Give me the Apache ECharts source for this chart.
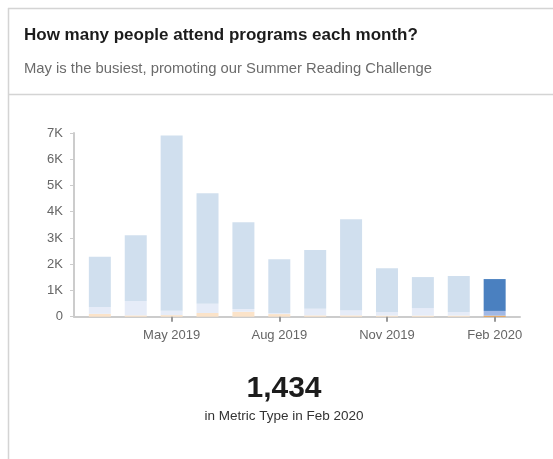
<!DOCTYPE html>
<html>
<head>
<meta charset="utf-8">
<script src="https://cdn.jsdelivr.net/npm/echarts@6/dist/echarts.min.js"></script>
<style>
  html, body { margin: 0; padding: 0; background: #fff; }
  #chart { width: 553px; height: 459px; }
</style>
</head>
<body>
<div id="chart"></div>
<script>
// Monthly program attendance, Mar 2019 – Feb 2020, split into three stacked parts
const months = ['Mar 2019', 'Apr 2019', 'May 2019', 'Jun 2019', 'Jul 2019', 'Aug 2019',
                'Sep 2019', 'Oct 2019', 'Nov 2019', 'Dec 2019', 'Jan 2020', 'Feb 2020'];
const partA = [110, 50, 60, 140, 190, 100, 50, 50, 40, 40, 40, 40];          // bottom (orange)
const partB = [260, 550, 170, 350, 100, 40, 250, 200, 140, 290, 140, 180];  // middle
const partC = [1910, 2500, 6670, 4210, 3310, 2050, 2240, 3460, 1670, 1180, 1370, 1214]; // top
const tickMonths = ['May 2019', 'Aug 2019', 'Nov 2019', 'Feb 2020'];
const yTicks = [0, 1000, 2000, 3000, 4000, 5000, 6000, 7000];
const current = 'Feb 2020';

const FONT = '"Liberation Sans", Arial, sans-serif';
const curIdx = months.indexOf(current);
const total = partA[curIdx] + partB[curIdx] + partC[curIdx];
const showMonth = (i) => tickMonths.indexOf(months[i]) !== -1;

function series(name, values, fullColor, fadedColor) {
  return {
    name: name,
    type: 'bar',
    stack: 'att',
    barWidth: 22,
    silent: true,
    xAxisIndex: 0,
    yAxisIndex: 0,
    data: values.map((v, i) => ({
      value: v,
      itemStyle: { color: i === curIdx ? fullColor : fadedColor }
    }))
  };
}

const plotTop = 133, plotBottom = 142.3;

const chart = echarts.init(document.getElementById('chart'), null, { renderer: 'canvas' });
chart.setOption({
  animation: false,
  backgroundColor: '#fff',
  textStyle: { fontFamily: FONT },
  title: [
    {
      text: 'How many people attend programs each month?',
      left: 24, top: 27, padding: 0,
      textStyle: { fontFamily: FONT, fontSize: 17, fontWeight: 'bold', color: '#1c1c1c' }
    },
    {
      text: 'May is the busiest, promoting our Summer Reading Challenge',
      left: 24, top: 61, padding: 0,
      textStyle: { fontFamily: FONT, fontSize: 14.8, fontWeight: 'normal', color: '#6b6b6b' }
    },
    {
      text: total.toLocaleString('en-US'),
      left: 284, top: 374, textAlign: 'center', padding: 0,
      textStyle: { fontFamily: FONT, fontSize: 30, fontWeight: 'bold', color: '#1c1c1c' }
    },
    {
      text: 'in Metric Type in ' + current,
      left: 284, top: 409, textAlign: 'center', padding: 0,
      textStyle: { fontFamily: FONT, fontSize: 13.5, fontWeight: 'normal', color: '#333' }
    }
  ],
  graphic: [
    { type: 'line', silent: true, shape: { x1: 8.5, y1: 8, x2: 8.5, y2: 459 }, style: { stroke: '#d4d4d4', lineWidth: 1.5 } },
    { type: 'line', silent: true, shape: { x1: 8, y1: 8.5, x2: 553, y2: 8.5 }, style: { stroke: '#d4d4d4', lineWidth: 1.5 } },
    { type: 'line', silent: true, shape: { x1: 8, y1: 94.5, x2: 553, y2: 94.5 }, style: { stroke: '#d4d4d4', lineWidth: 1.5 } }
  ],
  grid: [
    // month bands
    { left: 81.9, right: 40.4, top: plotTop, bottom: plotBottom },
    // full-width baseline
    { left: 74, right: 33, top: plotTop, bottom: plotBottom }
  ],
  xAxis: [
    {
      type: 'category',
      gridIndex: 0,
      data: months,
      boundaryGap: true,
      axisLine: { show: false },
      axisTick: {
        show: true,
        alignWithLabel: true,
        interval: (i) => showMonth(i),
        length: 5,
        lineStyle: { color: '#999', width: 2 }
      },
      axisLabel: {
        interval: (i) => showMonth(i),
        color: '#666',
        fontSize: 13,
        margin: 12,
        fontFamily: FONT
      },
      z: 3
    },
    {
      type: 'value',
      gridIndex: 1,
      min: 0,
      max: 1,
      splitLine: { show: false },
      axisLine: { show: true, onZero: false, lineStyle: { color: '#cccccc', width: 2 } },
      axisTick: { show: false },
      axisLabel: { show: false },
      z: 1
    }
  ],
  yAxis: [
    {
      type: 'value',
      gridIndex: 0,
      offset: 7.9,
      min: yTicks[0],
      max: yTicks[yTicks.length - 1],
      interval: 1000,
      splitLine: { show: false },
      axisLine: { show: true, onZero: false, lineStyle: { color: '#cccccc', width: 2 } },
      axisTick: { show: true, length: 4, lineStyle: { color: '#cccccc', width: 1 } },
      axisLabel: {
        formatter: v => v === 0 ? '0' : (v / 1000) + 'K',
        color: '#666',
        fontSize: 13,
        margin: 11,
        fontFamily: FONT
      }
    },
    {
      type: 'value',
      gridIndex: 1,
      show: false,
      min: 0,
      max: 1
    }
  ],
  series: [
    series('A', partA, '#ef9a3c', '#fbe3c9'),
    series('B', partB, '#a0b8e6', '#e6ecf8'),
    series('C', partC, '#4a80c0', '#d0dfee')
  ]
});
</script>
</body>
</html>
